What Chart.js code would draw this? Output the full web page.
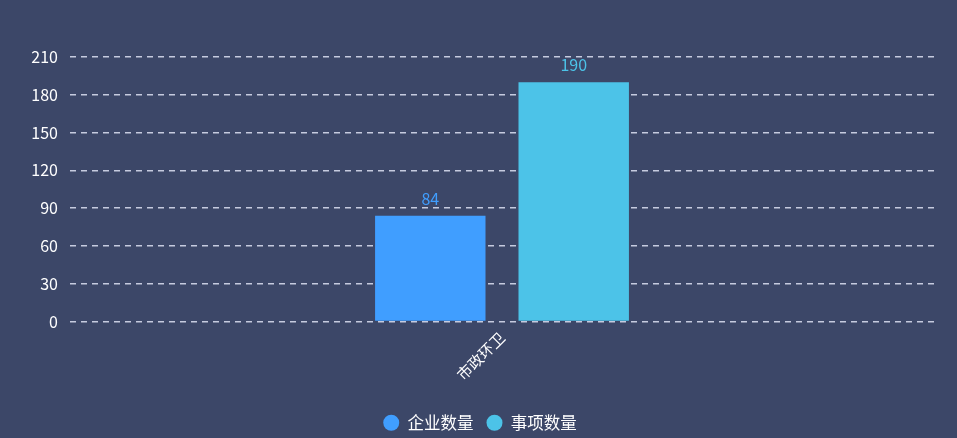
<!DOCTYPE html>
<html>
<head>
<meta charset="utf-8">
<script src="https://cdn.jsdelivr.net/npm/chart.js@4.4.0/dist/chart.umd.min.js"></script>
<style>
  html, body { margin: 0; padding: 0; background: #3c4768; overflow: hidden; }
  #wrap { width: 957px; height: 441px; }
</style>
</head>
<body>
<div id="wrap"><canvas id="barChart"></canvas></div>
<script>
const categories = ['市政环卫']
const companyCounts = [84]
const itemCounts = [190]
const yTicks = [0, 30, 60, 90, 120, 150, 180, 210]

const FONT = "'Noto Sans CJK SC', 'Liberation Sans', sans-serif"

// draws the value above each bar, in the bar's own colour
const valueLabels = {
  id: 'valueLabels',
  afterDatasetsDraw(chart) {
    const { ctx } = chart
    ctx.save()
    ctx.font = `16px ${FONT}`
    ctx.textAlign = 'center'
    ctx.textBaseline = 'alphabetic'
    chart.data.datasets.forEach((ds, i) => {
      chart.getDatasetMeta(i).data.forEach((bar, j) => {
        ctx.fillStyle = ds.backgroundColor
        ctx.fillText(String(ds.data[j]), bar.x, bar.y - 11)
      })
    })
    ctx.restore()
  }
}

new Chart(document.getElementById('barChart'), {
  type: 'bar',
  data: {
    labels: categories,
    datasets: [
      { label: '企业数量', data: companyCounts, backgroundColor: '#409eff' },
      { label: '事项数量', data: itemCounts, backgroundColor: '#4cc3e8' }
    ]
  },
  options: {
    responsive: true,
    maintainAspectRatio: false,
    animation: false,
    categoryPercentage: 0.332,
    barPercentage: 0.77,
    layout: { padding: { top: 57, right: 0, left: 3, bottom: 0 } },
    plugins: {
      tooltip: { enabled: false },
      legend: {
        position: 'bottom',
        labels: {
          usePointStyle: true,
          pointStyle: 'circle',
          boxWidth: 16,
          boxHeight: 11.3, // circle radius = boxHeight * sqrt2 / 2 -> 8px
          padding: 13,
          color: '#ffffff',
          font: { size: 16.5, family: FONT }
        }
      }
    },
    scales: {
      x: {
        grid: { display: false, drawTicks: false },
        border: { display: false },
        ticks: {
          color: '#ffffff',
          font: { size: 15, family: FONT },
          minRotation: 45,
          maxRotation: 45,
          padding: 7
        },
        afterFit: (scale) => { scale.height = 80 }
      },
      y: {
        min: 0,
        max: 210,
        afterBuildTicks: (scale) => { scale.ticks = yTicks.map(v => ({ value: v })) },
        grid: { color: 'rgba(222,227,245,0.85)', lineWidth: 1.5, drawTicks: false },
        border: { display: false, dash: [6, 5] },
        ticks: {
          color: '#ffffff',
          font: { size: 16, family: FONT },
          padding: 12
        },
        afterFit: (scale) => { scale.width = 67 }
      },
      // empty right-hand spacer so the legend stays centred on the full width
      spacer: {
        type: 'linear',
        position: 'right',
        grid: { display: false },
        border: { display: false },
        ticks: { display: false },
        afterFit: (scale) => { scale.width = 23 }
      }
    }
  },
  plugins: [valueLabels]
})
</script>
</body>
</html>
